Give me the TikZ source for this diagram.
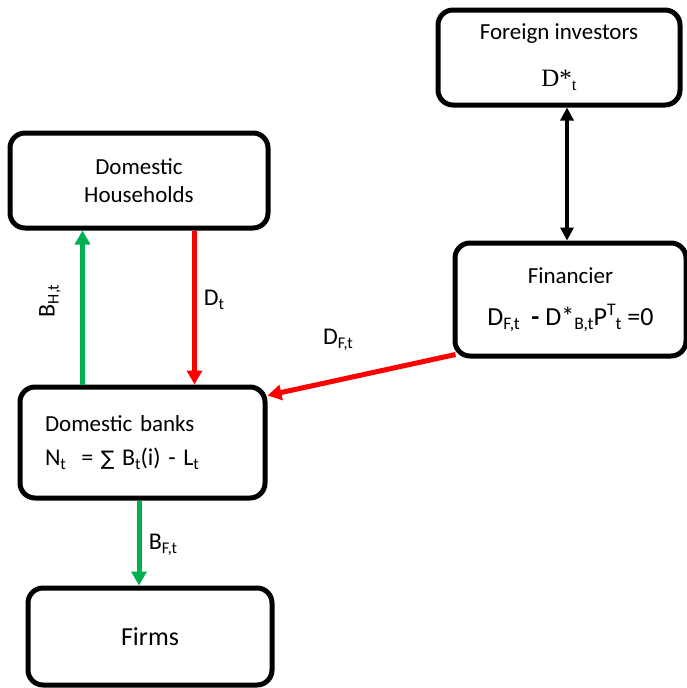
\documentclass[tikz,border=0pt]{standalone}
\usepackage{fontspec}
\setmainfont{Carlito}
\newfontfamily\serifface{Liberation Serif}
\newfontfamily\symface{DejaVu Sans}
\usepackage{tikz}
\usetikzlibrary{arrows.meta,positioning}
\definecolor{flowgreen}{RGB}{0,176,80}
\definecolor{flowred}{RGB}{255,0,0}
\newcommand{\lo}[1]{\raisebox{-0.35ex}{\scalebox{0.68}{#1}}}
\newcommand{\hi}[1]{\raisebox{0.75ex}{\scalebox{0.68}{#1}}}

\begin{document}
\begin{tikzpicture}[
  x=1pt, y=-1pt,
  box/.style={draw, line width=5pt, rounded corners=15pt, fill=white,
              align=center, font=\fontsize{23}{28}\selectfont},
  lbl/.style={font=\fontsize{24}{28}\selectfont, inner sep=0pt},
  garr/.style={draw=flowgreen, line width=5pt, -{Triangle[length=14pt,width=15pt]}},
  rarr/.style={draw=flowred, line width=5pt, -{Triangle[length=14pt,width=15pt]}},
  barr/.style={draw=black, line width=3.5pt, {Triangle[length=13pt,width=13pt]}-{Triangle[length=13pt,width=13pt]}}
]
\useasboundingbox (0,0) rectangle (687,688);

\node[box, minimum width=242pt, minimum height=95pt] at (559,57.5) (foreign)
  {Foreign investors\\[19pt]{\serifface\fontsize{25}{28}\selectfont D*\lo{t}}};
\node[box, minimum width=231pt, minimum height=113pt] at (570.5,299.5) (fin)
  {Financier\\[14pt]{\fontsize{26}{30}\selectfont D\lo{F,t}\ \ \textbf{-}\ D*\lo{B,t}P\hi{T}\lo{t} =0}};
\node[box, minimum width=258pt, minimum height=95pt] at (139,180.5) (hh)
  {Domestic\\Households};
\node[box, align=left, text width=195pt, inner xsep=25pt, minimum width=245pt, minimum height=111pt] at (142.5,442.5) (banks)
  {Domestic banks\\[6pt]{\fontsize{24}{28}\selectfont N\lo{t}\ \ = {\symface\fontsize{20}{24}\selectfont ∑} B\lo{t}(i) - L\lo{t}}};
\node[box, minimum width=244pt, minimum height=97pt, font=\fontsize{26}{30}\selectfont] at (150,636.5) (firms)
  {Firms};

\draw[garr] ([xshift=65pt]banks.north west) -- ([xshift=75pt]hh.south west);
\draw[rarr] ([xshift=187pt]hh.south west) -- ([xshift=177pt]banks.north west);
\draw[barr] ([xshift=8pt]foreign.south) -- ([xshift=-3.5pt]fin.north);
\draw[rarr] ([xshift=3pt,yshift=4pt]fin.south west) -- ([yshift=-11pt]banks.north east);
\draw[garr] ([xshift=-3.5pt]banks.south) -- ([xshift=-11pt]firms.north);

\node[lbl, rotate=90] at (50,301) (bht) {B\lo{H,t}};
\node[lbl] at (214,300) (dt) {D\lo{t}};
\node[lbl] at (338,340) (dft) {D\lo{F,t}};
\node[lbl] at (163,545) (bft) {B\lo{F,t}};

\end{tikzpicture}
\end{document}
